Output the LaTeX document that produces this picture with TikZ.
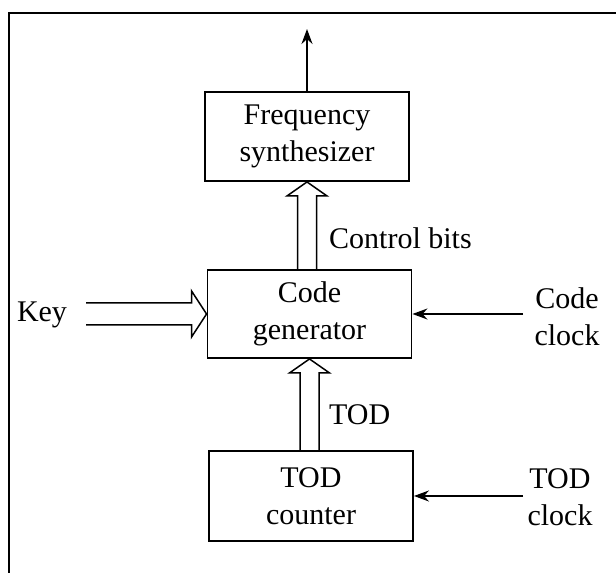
\documentclass[tikz,border=0pt]{standalone}
\usepackage{fontspec}
\setmainfont{Liberation Serif}
\usetikzlibrary{arrows.meta,calc}
\begin{document}
\begin{tikzpicture}[x=1pt,y=1pt,
  blockbox/.style={draw,line width=1.9pt,inner sep=0pt,align=center,
    minimum width=204pt,minimum height=89pt},
  lbl/.style={inner sep=0pt,align=center},
  hollow/.style={draw,line width=1.5pt,line join=miter},
  sig/.style={draw,line width=1.5pt,-{Stealth[length=15pt,width=11pt]}},
  every node/.style={font=\fontsize{30}{37}\selectfont}]
\useasboundingbox (0,0) rectangle (616,573);
% frame
\draw[line width=1.2pt] (9,0) -- (9,560) -- (616,560);
% blocks
\node[blockbox] (fs) at (307,436.5) {Frequency\\synthesizer};
\node[blockbox,minimum height=88pt] (cg) at (309.5,259) {Code\\generator};
\node[blockbox,minimum height=90pt] (tod) at (311,77) {TOD\\counter};
% output arrow
\coordinate (out) at (307,544);
\draw[sig] (fs.north) -- (out);
% hollow arrow cg -> fs
\coordinate (a1) at ($(fs.south)+(-9.5,0)$);
\coordinate (a2) at ($(fs.south)+(9.5,0)$);
\draw[hollow] (a1 |- cg.north) -- ($(fs.south)+(-9.5,-14)$)
  -- ($(fs.south)+(-20,-14)$) -- (fs.south) -- ($(fs.south)+(20,-14)$)
  -- ($(fs.south)+(9.5,-14)$) -- (a2 |- cg.north);
% hollow arrow tod -> cg
\coordinate (b1) at ($(cg.south)+(-9.5,0)$);
\coordinate (b2) at ($(cg.south)+(9.5,0)$);
\draw[hollow] (b1 |- tod.north) -- ($(cg.south)+(-9.5,-14)$)
  -- ($(cg.south)+(-20,-14)$) -- (cg.south) -- ($(cg.south)+(20,-14)$)
  -- ($(cg.south)+(9.5,-14)$) -- (b2 |- tod.north);
% key
\node[lbl] (key) at (42,258) {Key};
\coordinate (keyin) at (86,259);
\draw[hollow] ($(keyin)+(0,11)$) -- ($(cg.west)+(-15,11)$)
  -- ($(cg.west)+(-15,23)$) -- (cg.west) -- ($(cg.west)+(-15,-23)$)
  -- ($(cg.west)+(-15,-11)$) -- ($(keyin)+(0,-11)$);
% clocks
\node[lbl] (cclk) at (567,256) {Code\\clock};
\coordinate (ccin) at (523,259);
\draw[sig] (ccin) -- (cg.east);
\node[lbl] (tclk) at (560,76) {TOD\\clock};
\coordinate (tcin) at (523,77);
\draw[sig] (tcin) -- (tod.east);
% bus labels
\node[lbl,anchor=west] (cb) at (329,335) {Control bits};
\node[lbl,anchor=west] (todl) at (329,158) {TOD};
\end{tikzpicture}
\end{document}
